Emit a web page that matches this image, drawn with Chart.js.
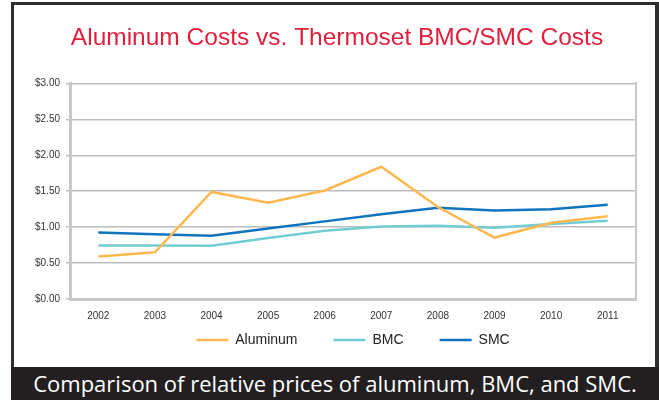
<!DOCTYPE html>
<html>
<head>
<meta charset="utf-8">
<script src="https://cdn.jsdelivr.net/npm/chart.js@4.4.1/dist/chart.umd.min.js"></script>
<style>
  html, body { margin: 0; padding: 0; background: #fff; }
  #wrap { position: relative; width: 659px; height: 400px; overflow: hidden; }
  #chartBox { position: absolute; left: 0; top: 0; width: 659px; height: 400px; }
  #frame { position: absolute; left: 11px; top: 2px; width: 648px; height: 365px; box-sizing: border-box;
           border: 3px solid #2e2e2e; border-right-width: 4px; border-bottom: 0; pointer-events: none; }
  #caption { position: absolute; left: 11px; top: 367px; width: 648px; height: 33px; background: #231f20;
             color: #fff; font: 22px 'Open Sans', sans-serif; line-height: 33px; text-align: center; white-space: nowrap; }
</style>
</head>
<body>
<div id="wrap">
  <div id="chartBox"><canvas id="costChart"></canvas></div>
  <div id="frame"></div>
  <div id="caption">Comparison of relative prices of aluminum, BMC, and SMC.</div>
</div>
<script>
// Values ($ per unit)
const years = ['2002', '2003', '2004', '2005', '2006', '2007', '2008', '2009', '2010', '2011'];
const aluminum = [0.59, 0.65, 1.49, 1.34, 1.51, 1.84, 1.28, 0.855, 1.06, 1.15];
const bmc = [0.745, 0.745, 0.74, 0.85, 0.95, 1.01, 1.02, 0.99, 1.045, 1.09];
const smc = [0.925, 0.90, 0.88, 0.98, 1.08, 1.18, 1.27, 1.23, 1.25, 1.31];
const seriesNames = ['Aluminum', 'BMC', 'SMC'];
const seriesColors = ['#fdb94f', '#72cdd2', '#0f73bd'];

const axisGray = '#c8c8c8';
const legendPad = 36;

// pull the legend up right under the year labels
const legendUnderAxis = {
    id: 'legendUnderAxis',
    afterLayout(chart) {
        const lg = chart.legend;
        if (!lg) return;
        const h = lg.height;
        lg.top = 340 - legendPad - 7;
        lg.bottom = lg.top + h;
    }
};

const ctx = document.getElementById('costChart').getContext('2d');
new Chart(ctx, {
    type: 'line',
    data: {
        labels: years,
        datasets: [aluminum, bmc, smc].map((values, i) => ({
            label: seriesNames[i],
            data: values,
            borderColor: seriesColors[i],
            backgroundColor: seriesColors[i],
            borderWidth: 2.5,
            pointRadius: 0,
            tension: 0,
        })),
    },
    options: {
        responsive: true,
        maintainAspectRatio: false,
        animation: false,
        layout: { padding: { left: 28, right: 13, top: 0, bottom: 18 } },
        plugins: {
            title: {
                display: true,
                text: 'Aluminum Costs vs. Thermoset BMC/SMC Costs',
                color: '#e21e3c',
                font: { family: 'Liberation Sans', size: 24.5, weight: 'normal' },
                padding: { top: 24, bottom: 30 },
            },
            legend: {
                position: 'bottom',
                fullSize: false,
                labels: {
                    usePointStyle: true,
                    pointStyle: 'line',
                    pointStyleWidth: 32,
                    padding: legendPad,
                    color: '#222',
                    font: { family: 'Liberation Sans', size: 14 },
                },
            },
            tooltip: { enabled: false },
        },
        scales: {
            x: {
                offset: true,
                grid: { display: false, drawTicks: false },
                border: { display: true, color: axisGray, width: 3 },
                ticks: { color: '#333', padding: 11, font: { family: 'Liberation Sans', size: 10 } },
                afterFit(scale) { scale.height = 23; },
            },
            y: {
                min: 0,
                max: 3,
                grid: { color: '#bdbdbd', lineWidth: 1.5, tickLength: 4 },
                border: { display: true, color: axisGray, width: 3 },
                ticks: {
                    stepSize: 0.5,
                    padding: 6,
                    color: '#333',
                    font: { family: 'Liberation Sans', size: 10 },
                    callback: (v) => '$' + Number(v).toFixed(2),
                },
                afterFit(scale) { scale.width = 42; },
            },
            // empty right axis, only its border line closes the plot box
            edge: {
                position: 'right',
                grid: { display: false },
                ticks: { display: false },
                border: { display: true, color: axisGray, width: 2 },
                afterFit(scale) { scale.width = 10; },
            },
        },
    },
    plugins: [legendUnderAxis],
});
</script>
</body>
</html>
